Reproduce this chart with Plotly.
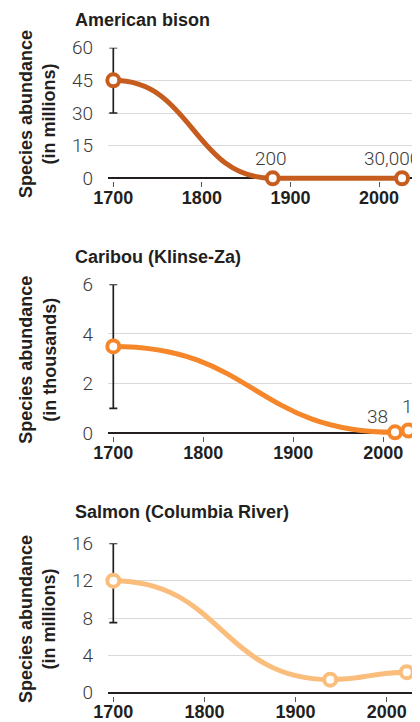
import plotly.graph_objects as go

# ---------------- data ----------------
bison_years = [1700, 1880, 2026]
bison_millions = [45, 0.0002, 0.03]
bison_err_plus = [15, None, None]
bison_err_minus = [15, None, None]
bison_labels = ["", "200", "30,000"]
bison_yticks = [0, 15, 30, 45, 60]

caribou_years = [1700, 2013, 2028]
caribou_thousands = [3.5, 0.038, 0.114]
caribou_err_plus = [2.5, None, None]
caribou_err_minus = [2.5, None, None]
caribou_labels = ["", "38", "114"]
caribou_yticks = [0, 2, 4, 6]

salmon_years = [1700, 1938, 2022]
salmon_millions = [12, 1.4, 2.2]
salmon_err_plus = [4, None, None]
salmon_err_minus = [4.5, None, None]
salmon_labels = ["", "", ""]
salmon_yticks = [0, 4, 8, 12, 16]

x_ticks = [1700, 1800, 1900, 2000]
panel_titles = ["American bison", "Caribou (Klinse-Za)", "Salmon (Columbia River)"]
y_titles = ["Species abundance<br>(in millions)",
            "Species abundance<br>(in thousands)",
            "Species abundance<br>(in millions)"]

# ---------------- style / layout ----------------
OFF = 8                      # page body margin offset (px)
SW, SH = 420, 722            # screen size
W, H = SW - OFF, SH - OFF    # figure size
L = 108 - OFF                # plot-area left edge in figure px
colors = ["#c65d1f", "#f5862a", "#fbbd7c"]
ink = "#231f20"
num_col = "#3a3a3a"
# pixel anchors per panel (screen px): top tick y, zero y, x of 1700, x of 2000, title y
px = [
    dict(ytop=47.7, yzero=178.3, x1700=113.3, x2000=379.0, ty=20.0),
    dict(ytop=284.3, yzero=433.3, x1700=113.3, x2000=383.3, ty=256.5),
    dict(ytop=543.3, yzero=692.7, x1700=113.3, x2000=386.7, ty=512.0),
]
label_style = {
    "200": dict(xshift=-2, yshift=20, xanchor="center"),
    "30,000": dict(xshift=-10, yshift=20, xanchor="center"),
    "38": dict(xshift=-18, yshift=16, xanchor="center"),
    "114": dict(xshift=-9, yshift=24, xanchor="left"),
}

panels = [
    (bison_years, bison_millions, bison_err_plus, bison_err_minus, bison_labels, bison_yticks),
    (caribou_years, caribou_thousands, caribou_err_plus, caribou_err_minus, caribou_labels, caribou_yticks),
    (salmon_years, salmon_millions, salmon_err_plus, salmon_err_minus, salmon_labels, salmon_yticks),
]

fig = go.Figure()
shapes = []
annotations = []
layout_axes = {}

for i, (xs, ys, ep, em, labels, yt) in enumerate(panels):
    n = "" if i == 0 else str(i + 1)
    xa, ya = "x" + n, "y" + n
    p = {k: v - OFF for k, v in px[i].items()}
    ymax = yt[-1]
    ppu = (p["yzero"] - p["ytop"]) / ymax
    pad = 3.0 / ppu
    dom = [1 - (p["yzero"] + 3) / H, 1 - p["ytop"] / H]
    scale = (p["x2000"] - p["x1700"]) / 300.0
    xr = [1700 - (p["x1700"] - L) / scale, 1700 + (W - p["x1700"]) / scale]

    layout_axes["xaxis" + n] = dict(
        range=xr, anchor=ya, domain=[0, 1], tickvals=x_ticks,
        ticktext=[str(t) for t in x_ticks], showgrid=False, zeroline=False,
        showline=False, ticks="outside", ticklen=5, tickwidth=1.2,
        tickcolor="#555555", automargin=False, ticklabelstandoff=-5,
        tickfont=dict(family="Liberation Sans, Arial, sans-serif",
                      size=18, color=ink, weight="bold"),
    )
    layout_axes["yaxis" + n] = dict(
        range=[-pad, ymax], anchor=xa, domain=dom, tickvals=yt,
        ticktext=[str(t) for t in yt], showgrid=True, gridcolor="#d9d9d9",
        gridwidth=1, zeroline=True, zerolinecolor=ink, zerolinewidth=2.2,
        showline=False, ticks="", automargin=False, ticklabelstandoff=14,
        tickfont=dict(family="Roboto, sans-serif", size=19, color=num_col, weight=300),
    )

    # smooth connecting line (cubic bump curve through the data points)
    path = "M {},{}".format(xs[0], ys[0])
    for k in range(1, len(xs)):
        xm = (xs[k - 1] + xs[k]) / 2.0
        path += " C {},{} {},{} {},{}".format(xm, ys[k - 1], xm, ys[k], xs[k], ys[k])
    shapes.append(dict(type="path", path=path, xref=xa, yref=ya, layer="between",
                       line=dict(color=colors[i], width=5)))

    fig.add_trace(go.Scatter(
        x=xs, y=ys, xaxis=xa, yaxis=ya, mode="markers", cliponaxis=False,
        marker=dict(size=12, color="white", line=dict(color=colors[i], width=4)),
        error_y=dict(type="data", symmetric=False, array=ep, arrayminus=em,
                     color=ink, thickness=1.7, width=4),
        hoverinfo="skip", showlegend=False,
    ))

    for xv, yv, lab in zip(xs, ys, labels):
        if lab:
            st = label_style[lab]
            annotations.append(dict(
                x=xv, y=yv, xref=xa, yref=ya, text=lab, showarrow=False,
                xanchor=st["xanchor"], yanchor="middle",
                xshift=st["xshift"], yshift=st["yshift"],
                font=dict(family="Roboto, sans-serif", size=19, color=num_col, weight=300),
            ))

    # panel title
    annotations.append(dict(
        x=(73 - OFF - L) / (W - L), y=1 - p["ty"] / H, xref="paper", yref="paper",
        text="<b>" + panel_titles[i] + "</b>", showarrow=False,
        xanchor="left", yanchor="middle",
        font=dict(family="Liberation Sans, Arial, sans-serif", size=18, color=ink),
    ))
    # y-axis title
    annotations.append(dict(
        x=(37.5 - OFF - L) / (W - L), y=(dom[0] + dom[1]) / 2, xref="paper", yref="paper",
        text="<b>" + y_titles[i] + "</b>", showarrow=False, textangle=-90,
        xanchor="center", yanchor="middle",
        font=dict(family="Liberation Sans, Arial, sans-serif", size=18, color=ink),
    ))

fig.update_layout(
    width=W, height=H, margin=dict(l=L, r=0, t=0, b=0),
    paper_bgcolor="white", plot_bgcolor="white",
    shapes=shapes, annotations=annotations, showlegend=False,
    **layout_axes,
)

fig.write_html("out.html")
